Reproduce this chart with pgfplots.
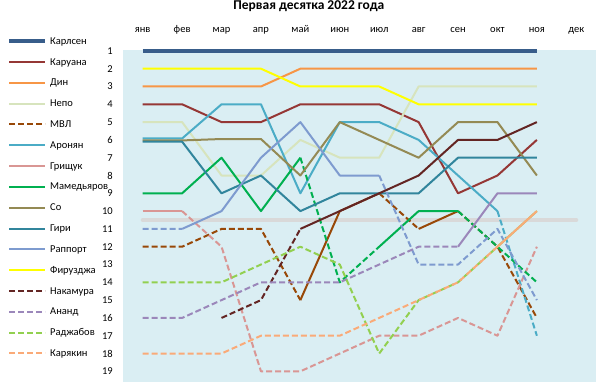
\documentclass[border=0pt]{standalone}
\usepackage{fontspec}
\setmainfont{Carlito}
\usepackage{pgfplots}
\pgfplotsset{compat=1.18}
\definecolor{cCarlsen}{HTML}{385D8A}
\definecolor{cCaruana}{HTML}{953735}
\definecolor{cDing}{HTML}{F79646}
\definecolor{cNepo}{HTML}{D7E4BD}
\definecolor{cMVL}{HTML}{984807}
\definecolor{cAronian}{HTML}{4BACC6}
\definecolor{cGrischuk}{HTML}{D99694}
\definecolor{cMamed}{HTML}{00B050}
\definecolor{cSo}{HTML}{948A54}
\definecolor{cGiri}{HTML}{31859C}
\definecolor{cRapport}{HTML}{7E9BCF}
\definecolor{cFirouzja}{HTML}{FFFF00}
\definecolor{cNakamura}{HTML}{632523}
\definecolor{cAnand}{HTML}{9B87BA}
\definecolor{cRadjabov}{HTML}{92D050}
\definecolor{cKarjakin}{HTML}{FAAA78}
\definecolor{cBg}{HTML}{DAEEF3}
\definecolor{cGrid}{HTML}{D9D9D9}
\begin{document}
\begin{tikzpicture}[font=\fontsize{10.5bp}{12.6bp}\selectfont]
\path[use as bounding box] (0,0) rectangle (608bp,389bp);
\begin{axis}[
  at={(123bp,7bp)}, anchor=south west,
  scale only axis, width=473bp, height=332bp,
  xmin=-0.5, xmax=11.5, ymin=0.95, ymax=19.6, y dir=reverse,
  clip=false,
  unbounded coords=jump,
  axis background/.style={fill=cBg},
  axis line style={draw=none},
  tick style={draw=none},
  xtick={0,...,11},
  xticklabels={янв,фев,мар,апр,май,июн,июл,авг,сен,окт,ноя,дек},
  xticklabel pos=upper,
  xticklabel style={anchor=base, yshift=18bp},
  ytick={1,...,19},
  yticklabel style={anchor=east, inner sep=0pt, xshift=-10bp},
  /pgf/number format/assume math mode=true,
  legend style={at={(-0.2442,1.0422)}, anchor=north west, draw=none, fill=none,
    inner sep=0pt, row sep=10.82bp, column sep=3bp, cells={anchor=west},
    nodes={inner sep=0pt, text height=8bp, text depth=2bp}},
  legend image code/.code={\draw[#1] (0bp,0bp) -- (36bp,0bp);},
  every axis plot/.append style={line width=2bp, line join=round},
  dsh/.style={dash pattern=on 6bp off 3bp},
]
\node[anchor=base, inner sep=0pt, font=\fontsize{13.5bp}{16bp}\selectfont\bfseries] at (rel axis cs:0.393,1.1205) {Первая десятка 2022 года};
% gray threshold line
\addplot[cGrid, line width=4bp, line cap=round, forget plot] coordinates {(0,10.5) (11,10.5)};
% Carlsen
\addplot[cCarlsen, line width=3.5bp] coordinates {(0,1) (1,1) (2,1) (3,1) (4,1) (5,1) (6,1) (7,1) (8,1) (9,1) (10,1)};
\addlegendentry{Карлсен}
% Caruana
\addplot[cCaruana] coordinates {(0,4) (1,4) (2,5) (3,5) (4,4) (5,4) (6,4) (7,5) (8,9) (9,8) (10,6)};
\addlegendentry{Каруана}
% Ding
\addplot[cDing] coordinates {(0,3) (1,3) (2,3) (3,3) (4,2) (5,2) (6,2) (7,2) (8,2) (9,2) (10,2)};
\addlegendentry{Дин}
% Nepo
\addplot[cNepo] coordinates {(0,5) (1,5) (2,8) (3,8) (4,6) (5,7) (6,7) (7,3) (8,3) (9,3) (10,3)};
\addlegendentry{Непо}
% MVL
\addplot[cMVL, dsh] coordinates {(0,12) (1,12) (2,11) (3,11) (4,15) (4,nan) (6,9) (7,11) (7,nan) (8,10) (9,12) (10,16)};
\addlegendentry{МВЛ}
\addplot[cMVL, forget plot] coordinates {(4,15) (5,10) (6,9) (6,nan) (7,11) (8,10)};
% Aronian
\addplot[cAronian] coordinates {(0,5.92) (1,5.92) (2,4) (3,4) (4,9) (5,5) (6,5) (7,6) (8,8) (9,10)};
\addlegendentry{Аронян}
\addplot[cAronian, dsh, forget plot] coordinates {(9,10) (10,17)};
% Grischuk
\addplot[cGrischuk] coordinates {(0,10) (1,10)};
\addlegendentry{Грищук}
\addplot[cGrischuk, dsh, forget plot] coordinates {(1,10) (2,12) (3,19) (4,19) (5,18) (6,17) (7,17) (8,16) (9,17) (10,12)};
% Mamedyarov
\addplot[cMamed] coordinates {(0,9) (1,9) (2,7) (3,10) (4,7) (4,nan) (6,12) (7,10) (8,10)};
\addlegendentry{Мамедьяров}
\addplot[cMamed, dsh, forget plot] coordinates {(4,7) (5,14) (6,12) (6,nan) (8,10) (9,12) (10,14)};
% So
\addplot[cSo] coordinates {(0,6.03) (1,6.03) (2,5.95) (3,5.95) (4,8) (5,5) (6,6) (7,7) (8,5) (9,5) (10,8)};
\addlegendentry{Со}
% Giri
\addplot[cGiri] coordinates {(0,6.1) (1,6.1) (2,9) (3,8) (4,10) (5,9) (6,9) (7,9) (8,7) (9,7) (10,7)};
\addlegendentry{Гири}
% Rapport
\addplot[cRapport] coordinates {(1,11) (2,10) (3,7) (4,5) (5,8) (6,8)};
\addlegendentry{Раппорт}
\addplot[cRapport, dsh, forget plot] coordinates {(0,11) (1,11) (1,nan) (6,8) (7,13) (8,13) (9,11) (10,15)};
% Firouzja
\addplot[cFirouzja] coordinates {(0,2) (1,2) (2,2) (3,2) (4,3) (5,3) (6,3) (7,4) (8,4) (9,4) (10,4)};
\addlegendentry{Фирузджа}
% Nakamura
\addplot[cNakamura, dsh] coordinates {(2,16) (3,15) (4,11)};
\addlegendentry{Накамура}
\addplot[cNakamura, forget plot] coordinates {(4,11) (5,10) (6,9) (7,8) (8,6) (9,6) (10,5)};
% Anand
\addplot[cAnand, dsh] coordinates {(0,16) (1,16) (2,15) (3,14) (4,14) (5,14) (6,13) (7,12) (8,12)};
\addlegendentry{Ананд}
\addplot[cAnand, forget plot] coordinates {(8,12) (9,9) (10,9)};
% Radjabov
\addplot[cRadjabov, dsh] coordinates {(0,14) (1,14) (2,14) (3,13) (4,12) (5,13) (6,18) (7,15) (8,14) (9,12)};
\addlegendentry{Раджабов}
\addplot[cRadjabov, forget plot] coordinates {(9,12) (10,10)};
% Karjakin
\addplot[cKarjakin, dsh] coordinates {(0,18) (1,18) (2,18) (3,17) (4,17) (5,17) (6,16) (7,15) (8,14) (9,12)};
\addlegendentry{Карякин}
\addplot[cKarjakin, forget plot] coordinates {(9,12) (10,10)};
\end{axis}
\end{tikzpicture}
\end{document}
